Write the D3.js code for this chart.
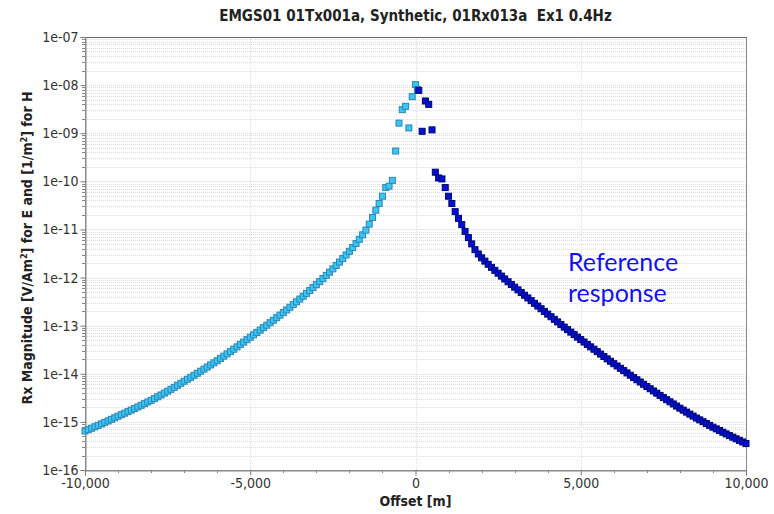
<!DOCTYPE html>
<html>
<head>
<meta charset="utf-8">
<script src="https://cdn.jsdelivr.net/npm/d3@7/dist/d3.min.js"></script>
<style>
  html, body { margin: 0; padding: 0; background: #fff; }
  svg { display: block; }
</style>
</head>
<body>
<svg id="chart" width="774" height="514"></svg>
<script>
// Receiver magnitude vs. offset; values are log10 of the magnitude.
const titleText = "EMGS01 01Tx001a, Synthetic, 01Rx013a  Ex1 0.4Hz";
const xLabel = "Offset [m]";
const annotationLines = ["Reference", "response"];

// Negative offsets (and the first near-field points), light blue
const negativeSide = [
  [-10000,-15.19],[-9900,-15.161],[-9800,-15.132],[-9700,-15.102],[-9600,-15.072],[-9500,-15.041],[-9400,-15.010],[-9300,-14.979],[-9200,-14.947],[-9100,-14.915],
  [-9000,-14.882],[-8900,-14.851],[-8800,-14.819],[-8700,-14.787],[-8600,-14.755],[-8500,-14.722],[-8400,-14.689],[-8300,-14.655],[-8200,-14.621],[-8100,-14.587],
  [-8000,-14.552],[-7900,-14.516],[-7800,-14.479],[-7700,-14.441],[-7600,-14.402],[-7500,-14.363],[-7400,-14.323],[-7300,-14.282],[-7200,-14.240],[-7100,-14.198],
  [-7000,-14.155],[-6900,-14.114],[-6800,-14.073],[-6700,-14.031],[-6600,-13.989],[-6500,-13.947],[-6400,-13.904],[-6300,-13.860],[-6200,-13.816],[-6100,-13.772],
  [-6000,-13.728],[-5900,-13.681],[-5800,-13.634],[-5700,-13.587],[-5600,-13.539],[-5500,-13.490],[-5400,-13.441],[-5300,-13.392],[-5200,-13.342],[-5100,-13.291],
  [-5000,-13.240],[-4900,-13.191],[-4800,-13.142],[-4700,-13.092],[-4600,-13.041],[-4500,-12.990],[-4400,-12.939],[-4300,-12.887],[-4200,-12.834],[-4100,-12.781],
  [-4000,-12.728],[-3900,-12.673],[-3800,-12.618],[-3700,-12.562],[-3600,-12.505],[-3500,-12.447],[-3400,-12.389],[-3300,-12.329],[-3200,-12.269],[-3100,-12.208],
  [-3000,-12.147],[-2900,-12.084],[-2800,-12.020],[-2700,-11.955],[-2600,-11.888],[-2500,-11.819],[-2400,-11.749],[-2300,-11.678],[-2200,-11.605],[-2100,-11.530],
  [-2000,-11.454],[-1900,-11.376],[-1800,-11.293],[-1700,-11.205],[-1600,-11.112],[-1500,-11.014],[-1400,-10.889],[-1300,-10.751],[-1200,-10.600],[-1100,-10.46],
  [-1000,-10.31],[-900,-10.13],[-800,-10.10],[-700,-9.98],[-600,-9.37],[-500,-8.79],[-400,-8.51],[-300,-8.44],[-200,-8.89],[-100,-8.24],
  [0,-7.99],[60,-8.09]
];

// Positive offsets, dark blue
const positiveSide = [
  [100,-8.11],[200,-8.96],[300,-8.33],[400,-8.40],[500,-8.93],[600,-9.81],[700,-9.93],[800,-9.95],[900,-10.13],[1000,-10.31],
  [1100,-10.46],[1200,-10.63],[1300,-10.77],[1400,-10.90],[1500,-11.04],[1600,-11.17],[1700,-11.30],[1800,-11.42],[1900,-11.51],[2000,-11.59],
  [2100,-11.658],[2200,-11.724],[2300,-11.788],[2400,-11.850],[2500,-11.910],[2600,-11.970],[2700,-12.029],[2800,-12.087],[2900,-12.144],[3000,-12.200],
  [3100,-12.256],[3200,-12.312],[3300,-12.368],[3400,-12.424],[3500,-12.480],[3600,-12.536],[3700,-12.592],[3800,-12.648],[3900,-12.704],[4000,-12.760],
  [4100,-12.814],[4200,-12.868],[4300,-12.922],[4400,-12.976],[4500,-13.030],[4600,-13.082],[4700,-13.134],[4800,-13.186],[4900,-13.238],[5000,-13.290],
  [5100,-13.340],[5200,-13.390],[5300,-13.440],[5400,-13.490],[5500,-13.540],[5600,-13.590],[5700,-13.640],[5800,-13.690],[5900,-13.740],[6000,-13.790],
  [6100,-13.838],[6200,-13.886],[6300,-13.934],[6400,-13.982],[6500,-14.030],[6600,-14.077],[6700,-14.124],[6800,-14.171],[6900,-14.218],[7000,-14.265],
  [7100,-14.311],[7200,-14.357],[7300,-14.403],[7400,-14.449],[7500,-14.495],[7600,-14.539],[7700,-14.583],[7800,-14.627],[7900,-14.671],[8000,-14.715],
  [8100,-14.756],[8200,-14.797],[8300,-14.838],[8400,-14.879],[8500,-14.920],[8600,-14.958],[8700,-14.996],[8800,-15.034],[8900,-15.072],[9000,-15.110],
  [9100,-15.145],[9200,-15.180],[9300,-15.215],[9400,-15.250],[9500,-15.285],[9600,-15.318],[9700,-15.351],[9800,-15.384],[9900,-15.417],[10000,-15.450]
];

const xMajorTicks = [-10000, -5000, 0, 5000, 10000];
const xTickLabels = ["-10,000", "-5,000", "0", "5,000", "10,000"];
const xMinorTicks = d3.range(-10000, 10001, 1000);
const yDecades = [1e-16, 1e-15, 1e-14, 1e-13, 1e-12, 1e-11, 1e-10, 1e-9, 1e-8, 1e-7];
const yTickLabels = ["1e-16", "1e-15", "1e-14", "1e-13", "1e-12", "1e-11", "1e-10", "1e-09", "1e-08", "1e-07"];

const svg = d3.select("#chart");
const plotLeft = 85, plotRight = 746, plotTop = 37, plotBottom = 470;

const x = d3.scaleLinear().domain([-10000, 10000]).range([plotLeft, plotRight]);
const y = d3.scaleLog().domain([1e-16, 1e-7]).range([plotBottom, plotTop]);

const uiFont = "'DejaVu Sans Condensed', 'DejaVu Sans', sans-serif";

// Grid: every log sub-division horizontally, major offsets vertically
const grid = svg.append("g");
grid.selectAll("line.h").data(y.ticks()).join("line")
  .attr("x1", plotLeft).attr("x2", plotRight)
  .attr("y1", d => Math.round(y(d)) + 0.5).attr("y2", d => Math.round(y(d)) + 0.5)
  .attr("stroke", "#dcdcdc").attr("stroke-dasharray", "1,1");
grid.selectAll("line.v").data([-5000, 0, 5000]).join("line")
  .attr("x1", d => Math.round(x(d)) + 0.5).attr("x2", d => Math.round(x(d)) + 0.5)
  .attr("y1", plotTop).attr("y2", plotBottom)
  .attr("stroke", "#dedede").attr("stroke-dasharray", "1,1");

// Frame
svg.append("rect")
  .attr("x", plotLeft + 0.5).attr("y", plotTop + 0.5)
  .attr("width", plotRight - plotLeft).attr("height", plotBottom - plotTop)
  .attr("fill", "none").attr("stroke", "#8a8a8a");
svg.append("line")
  .attr("x1", plotLeft).attr("x2", plotRight + 1).attr("y1", plotTop + 0.5).attr("y2", plotTop + 0.5)
  .attr("stroke", "#666");

// Y axis
const yAxis = svg.append("g").attr("transform", `translate(${plotLeft + 0.5},0)`)
  .call(d3.axisLeft(y).tickValues(yDecades).tickSize(5)
    .tickFormat((d, i) => yTickLabels[i]));
yAxis.select(".domain").attr("stroke", "#8a8a8a");
yAxis.selectAll(".tick line").attr("stroke", "#777");
yAxis.selectAll("text").attr("font-family", uiFont).attr("font-size", 14).attr("fill", "#333").attr("x", -7);
svg.append("g").selectAll("line").data(y.ticks().filter(d => !yDecades.includes(d))).join("line")
  .attr("x1", plotLeft - 3).attr("x2", plotLeft)
  .attr("y1", d => Math.round(y(d)) + 0.5).attr("y2", d => Math.round(y(d)) + 0.5)
  .attr("stroke", "#888");

// X axis
const xAxis = svg.append("g").attr("transform", `translate(0,${plotBottom + 0.5})`)
  .call(d3.axisBottom(x).tickValues(xMajorTicks).tickSize(5)
    .tickFormat((d, i) => xTickLabels[i]));
xAxis.select(".domain").attr("stroke", "#8a8a8a");
xAxis.selectAll(".tick line").attr("stroke", "#777");
xAxis.selectAll("text").attr("font-family", uiFont).attr("font-size", 14).attr("fill", "#333").attr("y", 8);
svg.append("g").selectAll("line").data(xMinorTicks.filter(d => !xMajorTicks.includes(d))).join("line")
  .attr("x1", d => Math.round(x(d)) + 0.5).attr("x2", d => Math.round(x(d)) + 0.5)
  .attr("y1", plotBottom).attr("y2", plotBottom + 3)
  .attr("stroke", "#888");

// Titles
svg.append("text").attr("x", (plotLeft + plotRight) / 2).attr("y", 21)
  .attr("text-anchor", "middle").attr("font-family", uiFont)
  .style("white-space", "pre")
  .attr("font-size", 15).attr("font-weight", "bold").attr("fill", "#222")
  .text(titleText);
svg.append("text").attr("x", (plotLeft + plotRight) / 2).attr("y", 506)
  .attr("text-anchor", "middle").attr("font-family", uiFont)
  .attr("font-size", 14).attr("font-weight", "bold").attr("fill", "#222")
  .text(xLabel);

const yl = svg.append("text")
  .attr("transform", "translate(32,248) rotate(-90)")
  .attr("text-anchor", "middle").attr("font-family", uiFont)
  .attr("font-size", 14).attr("font-weight", "bold").attr("fill", "#222");
yl.append("tspan").text("Rx Magnitude [V/Am");
yl.append("tspan").attr("dy", -5).attr("font-size", 9).text("2");
yl.append("tspan").attr("dy", 5).text("] for E and [1/m");
yl.append("tspan").attr("dy", -5).attr("font-size", 9).text("2");
yl.append("tspan").attr("dy", 5).text("] for H");

// Markers
function drawSeries(data, fill, stroke) {
  const s = 6;
  svg.append("g").selectAll("rect").data(data).join("rect")
    .attr("x", d => x(d[0]) - s / 2)
    .attr("y", d => y(Math.pow(10, d[1])) - s / 2)
    .attr("width", s).attr("height", s)
    .attr("fill", fill).attr("stroke", stroke).attr("stroke-width", 1);
}
drawSeries(negativeSide, "#3cc4f2", "#2a86b4");
drawSeries(positiveSide, "#0010d4", "#00066e");

// Annotation
const note = svg.append("text").attr("font-family", "Lato, 'Open Sans', sans-serif")
  .attr("font-size", 25).attr("fill", "#1212f0");
annotationLines.forEach((t, i) => {
  note.append("tspan").attr("x", 568).attr("y", 271 + i * 31).text(t);
});
</script>
</body>
</html>
